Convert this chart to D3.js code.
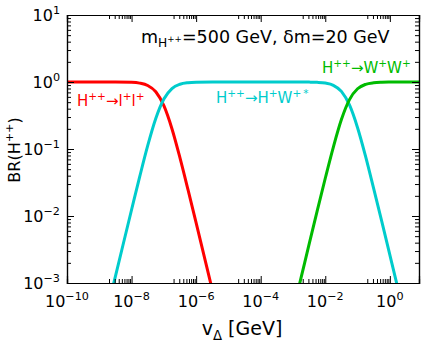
<!DOCTYPE html>
<html>
<head>
<meta charset="utf-8">
<script src="https://cdn.jsdelivr.net/npm/d3@7"></script>
<style>
  body { margin: 0; background: #fff; }
  svg { display: block; font-family: 'DejaVu Sans', sans-serif; }
</style>
</head>
<body>
<div class="canvas"></div>
<script>
// data (v_Delta in GeV, branching ratios)
const vDelta = [
  1e-10, 1e-9, 3.16e-9, 1e-8, 1.78e-8, 3.16e-8, 5.62e-8, 1e-7, 1.78e-7,
  3.16e-7, 5.62e-7, 1e-6, 3.16e-6, 1e-5, 1e-4, 1e-3, 1.78e-3, 3.16e-3,
  5.62e-3, 1e-2, 1.78e-2, 3.16e-2, 5.62e-2, 0.1, 0.178, 0.316, 0.562, 1,
  1.78, 3.16, 8,
];
const brLL = [
  1, 0.9999, 0.9987, 0.988, 0.962, 0.888, 0.715, 0.443, 0.201,
  0.0736, 0.0245, 0.0079, 0.00079, 0.000079, null, null, null, null,
  null, null, null, null, null, null, null, null, null, null,
  null, null, null,
];
const brHW = [
  null, 0.00013, 0.00126, 0.0124, 0.0383, 0.112, 0.285, 0.557, 0.799,
  0.926, 0.9755, 0.992, 0.999, 1, 1, 0.9996, 0.9988, 0.996,
  0.988, 0.963, 0.893, 0.725, 0.454, 0.208, 0.077, 0.0256, 0.0083, 0.00263,
  0.00083, 0.00026, null,
];
const brWW = [
  null, null, null, null, null, null, null, null, null,
  null, null, null, null, null, null, 0.00038, 0.0012, 0.0038,
  0.0119, 0.0366, 0.107, 0.275, 0.546, 0.792, 0.923, 0.974, 0.9917, 0.9974,
  0.9992, 0.9997, 1,
];

const xTicks = [1e-10, 1e-8, 1e-6, 1e-4, 1e-2, 1];
const xTickExp = ['\u221210', '\u22128', '\u22126', '\u22124', '\u22122', '0'];
const yTicks = [1e-3, 1e-2, 1e-1, 1, 10];
const yTickExp = ['\u22123', '\u22122', '\u22121', '0', '1'];

const series = [
  { name: 'll', values: brLL, color: '#ff0000' },
  { name: 'hw', values: brHW, color: '#00cccc' },
  { name: 'ww', values: brWW, color: '#00bb00' },
];

const dims = {
  width: 430,
  height: 348,
  left: 67,
  right: 419,
  top: 15,
  bottom: 283,
};

const svg = d3
  .select('.canvas')
  .append('svg')
  .attr('width', dims.width)
  .attr('height', dims.height);

// scales
const x = d3.scaleLog().domain([1e-10, 8]).range([dims.left, dims.right]);
const y = d3.scaleLog().domain([1e-3, 10]).range([dims.bottom, dims.top]);

svg
  .append('clipPath')
  .attr('id', 'plot-clip')
  .append('rect')
  .attr('x', dims.left)
  .attr('y', dims.top)
  .attr('width', dims.right - dims.left)
  .attr('height', dims.bottom - dims.top);

// text with sub / superscripts: parts = [text, offset(em), scale]
const rich = (sel, parts, size) => {
  let prev = 0;
  parts.forEach(([t, off, sc]) => {
    sel
      .append('tspan')
      .attr('dy', (off - prev) * size)
      .attr('font-size', size * sc)
      .text(t);
    prev = off;
  });
  if (prev !== 0) sel.append('tspan').attr('dy', -prev * size).text('');
};

// curves
const line = d3
  .line()
  .defined((d) => d[1] !== null)
  .x((d) => x(d[0]))
  .y((d) => y(d[1]))
  .curve(d3.curveMonotoneX);

const curves = svg.append('g').attr('clip-path', 'url(#plot-clip)');
series.forEach((s) => {
  curves
    .append('path')
    .datum(vDelta.map((v, i) => [v, s.values[i]]))
    .attr('fill', 'none')
    .attr('stroke', s.color)
    .attr('stroke-width', 3)
    .attr('d', line);
});

// axes: inward ticks on all four sides
const xMinor = [];
[-9, -7, -5, -3, -1].forEach((e) => {
  d3.range(2, 10).forEach((m) => xMinor.push(m * Math.pow(10, e)));
});
const yMinor = [];
[-3, -2, -1, 0].forEach((e) => {
  d3.range(2, 10).forEach((m) => yMinor.push(m * Math.pow(10, e)));
});

const axisTicks = (gen, ticks, size) =>
  gen.tickValues(ticks).tickSize(-size).tickFormat('');

const frame = svg.append('g');
frame.append('g').attr('transform', `translate(0,${dims.bottom})`).call(axisTicks(d3.axisBottom(x), xTicks, 7));
frame.append('g').attr('transform', `translate(0,${dims.bottom})`).call(axisTicks(d3.axisBottom(x), xMinor, 4));
frame.append('g').attr('transform', `translate(0,${dims.top})`).call(axisTicks(d3.axisTop(x), xTicks, 7));
frame.append('g').attr('transform', `translate(0,${dims.top})`).call(axisTicks(d3.axisTop(x), xMinor, 4));
frame.append('g').attr('transform', `translate(${dims.left},0)`).call(axisTicks(d3.axisLeft(y), yTicks, 7));
frame.append('g').attr('transform', `translate(${dims.left},0)`).call(axisTicks(d3.axisLeft(y), yMinor, 4));
frame.append('g').attr('transform', `translate(${dims.right},0)`).call(axisTicks(d3.axisRight(y), yTicks, 7));
frame.append('g').attr('transform', `translate(${dims.right},0)`).call(axisTicks(d3.axisRight(y), yMinor, 4));
frame.selectAll('path.domain').attr('stroke', '#000').attr('stroke-width', 1.2);
frame.selectAll('.tick line').attr('stroke', '#000').attr('stroke-width', 1);

// tick labels
xTicks.forEach((t, i) => {
  const lbl = svg
    .append('text')
    .attr('x', x(t))
    .attr('y', 307)
    .attr('text-anchor', 'middle')
    .attr('font-size', 16);
  rich(lbl, [['10', 0, 1], [xTickExp[i], -0.42, 0.7]], 16);
});
yTicks.forEach((t, i) => {
  const lbl = svg
    .append('text')
    .attr('x', 60)
    .attr('y', y(t) + 6)
    .attr('text-anchor', 'end')
    .attr('font-size', 16);
  rich(lbl, [['10', 0, 1], [yTickExp[i], -0.42, 0.7]], 16);
});

// axis titles
const xt = svg
  .append('text')
  .attr('x', 242)
  .attr('y', 335)
  .attr('text-anchor', 'middle')
  .attr('font-size', 19);
rich(xt, [['v', 0, 1], ['\u0394', 0.25, 0.7], [' [GeV]', 0, 1]], 19);

const yt = svg
  .append('text')
  .attr('transform', 'translate(20,150) rotate(-90)')
  .attr('text-anchor', 'middle')
  .attr('font-size', 16);
rich(yt, [['BR(H', 0, 1], ['++', -0.42, 0.7], [')', 0, 1]], 16);

// annotations
const title = svg
  .append('text')
  .attr('x', 141)
  .attr('y', 43)
  .attr('font-size', 17.5)
  .attr('fill', '#000');
rich(title, [
  ['m', 0, 1], ['H', 0.25, 0.7], ['++', -0.05, 0.5],
  ['=500 GeV, \u03b4m=20 GeV', 0, 1],
], 17.5);

const labels = [
  { x: 77, y: 106, color: '#ff0000',
    parts: [['H', 0, 1], ['++', -0.42, 0.7], ['\u2192l', 0, 1], ['+', -0.42, 0.7], ['l', 0, 1], ['+', -0.42, 0.7]] },
  { x: 216, y: 103, color: '#00cccc',
    parts: [['H', 0, 1], ['++', -0.42, 0.7], ['\u2192H', 0, 1], ['+', -0.42, 0.7], ['W', 0, 1], ['+\u2009*', -0.42, 0.7]] },
  { x: 322, y: 73, color: '#00bb00',
    parts: [['H', 0, 1], ['++', -0.42, 0.7], ['\u2192W', 0, 1], ['+', -0.42, 0.7], ['W', 0, 1], ['+', -0.42, 0.7]] },
];
labels.forEach((l) => {
  const t = svg
    .append('text')
    .attr('x', l.x)
    .attr('y', l.y)
    .attr('font-size', 15)
    .attr('fill', l.color);
  rich(t, l.parts, 15);
});
</script>
</body>
</html>
